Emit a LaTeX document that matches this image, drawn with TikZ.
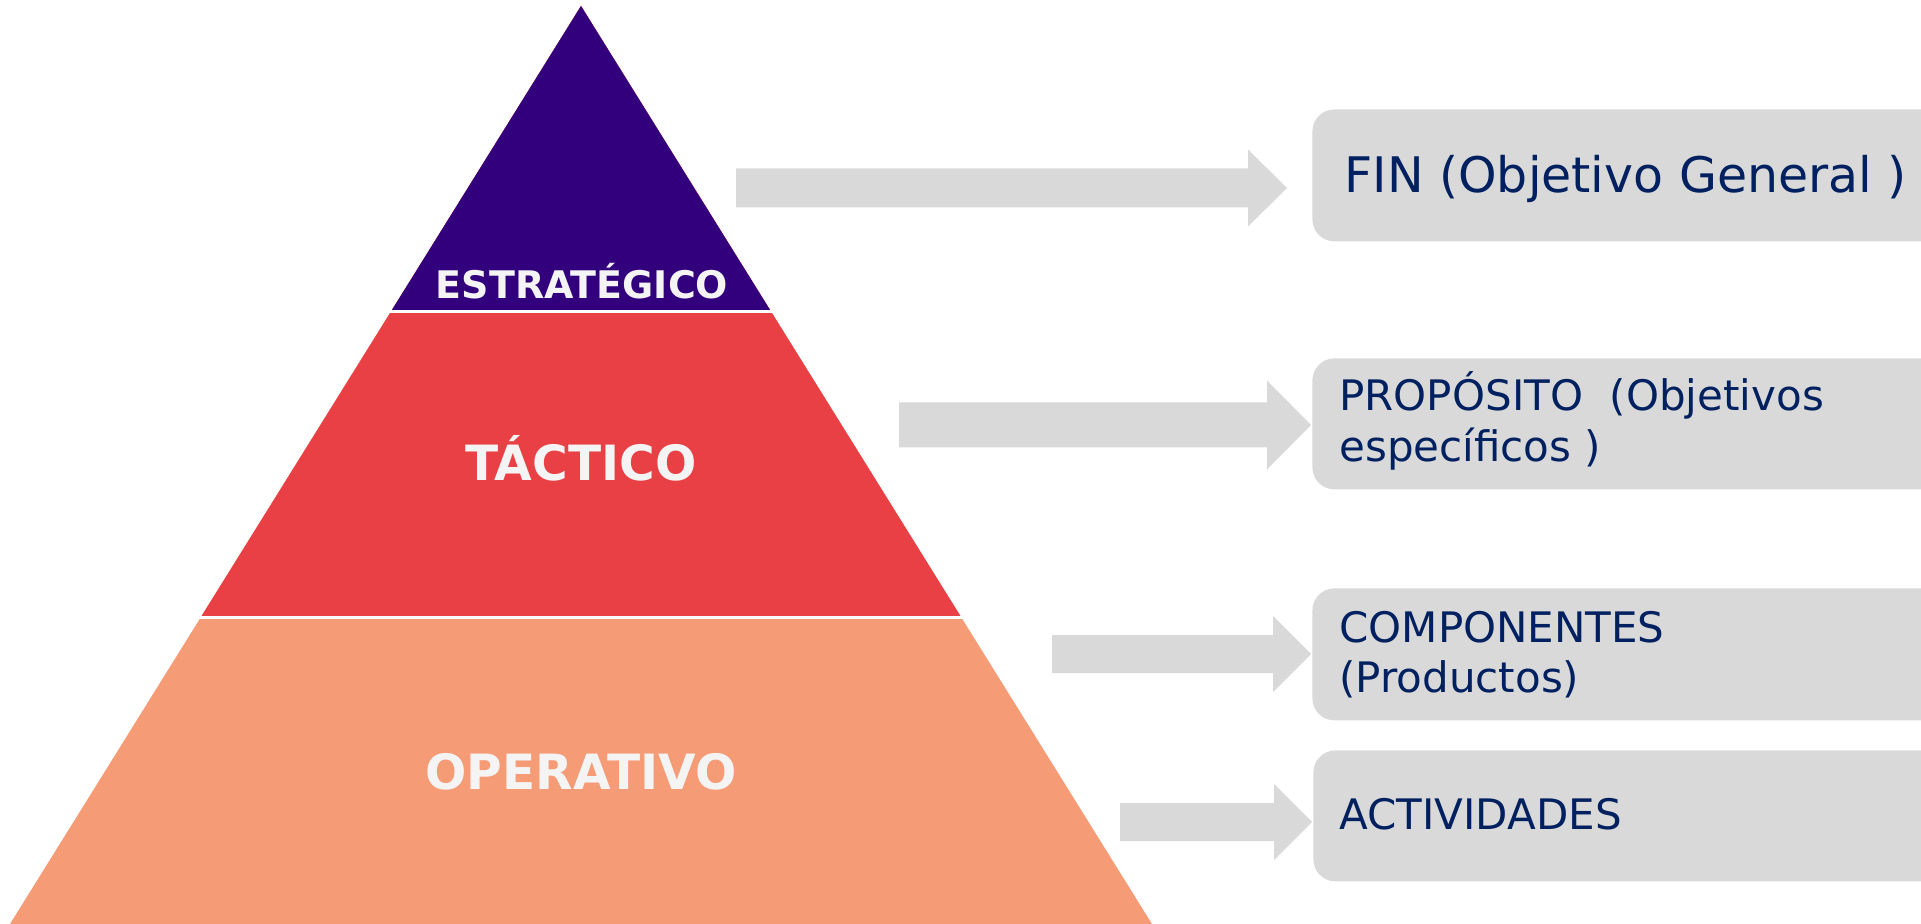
\documentclass[tikz,border=0pt]{standalone}
\usepackage{fontspec}
\setmainfont{DejaVu Sans}
\usetikzlibrary{calc,positioning}
\definecolor{estblue}{HTML}{33007D}
\definecolor{tacred}{HTML}{E84044}
\definecolor{opsalmon}{HTML}{F59B76}
\definecolor{boxgrey}{HTML}{D9D9D9}
\definecolor{txtnavy}{HTML}{002060}
\definecolor{lvltext}{HTML}{F4F4F4}

\begin{document}
\begin{tikzpicture}[x=0.5pt, y=-0.5pt,
    levellabel/.style={text=lvltext, inner sep=0pt, anchor=base},
    goalbox/.style={fill=boxgrey, rounded corners=11pt, anchor=north west, minimum width=360pt, inner sep=0pt},
    goaltext/.style={text=txtnavy, font=\fontsize{21}{25}\selectfont, align=left, inner sep=0pt, anchor=base west},
    blockarrow/.style={fill=boxgrey}]
    \useasboundingbox (0,0) rectangle (1921,924);
    \clip (0,0) rectangle (1921,924);

    % Pyramid
    \coordinate (apex) at (581,6);
    \coordinate (baseL) at (10,924);
    \coordinate (baseR) at (1152,924);
    \coordinate (cutL1) at ($(apex)!1/3!(baseL)$);
    \coordinate (cutR1) at ($(apex)!1/3!(baseR)$);
    \coordinate (cutL2) at ($(apex)!2/3!(baseL)$);
    \coordinate (cutR2) at ($(apex)!2/3!(baseR)$);
    \fill[opsalmon] (apex) -- (baseL) -- (baseR) -- cycle;
    \fill[tacred] (apex) -- (cutL2) -- (cutR2) -- cycle;
    \fill[estblue] (apex) -- (cutL1) -- (cutR1) -- cycle;
    \draw[white, line width=1.5pt] ($(cutL1)+(-3,0)$) -- ($(cutR1)+(3,0)$);
    \draw[white, line width=1.5pt] ($(cutL2)+(-3,0)$) -- ($(cutR2)+(3,0)$);

    % Level labels
    \node[levellabel, font=\bfseries\fontsize{19}{23}\selectfont] (estrategico) at (582,299) {ESTRATÉGICO};
    \node[levellabel, font=\bfseries\fontsize{24.3}{29}\selectfont] (tactico) at (581,481) {TÁCTICO};
    \node[levellabel, font=\bfseries\fontsize{24.3}{29}\selectfont] (operativo) at (581,789) {OPERATIVO};

    % Block arrows
    \foreach \xs/\xh/\xt/\yc/\ws/\wh in {736/1248/1287/188/19.5/38.5, 899/1267/1311/425/22.5/44.5,
                                          1052/1273/1311/654/19/38, 1120/1274/1312/822/19/38} {
        \fill[blockarrow] (\xs,\yc-\ws) -- (\xh,\yc-\ws) -- (\xh,\yc-\wh) -- (\xt,\yc)
            -- (\xh,\yc+\wh) -- (\xh,\yc+\ws) -- (\xs,\yc+\ws) -- cycle;
    }

    % Goal boxes
    \node[goalbox, minimum height=66pt] (fin) at (1312,109) {};
    \node[goalbox, minimum height=65.5pt] (proposito) at (1312,358) {};
    \node[goalbox, minimum height=66pt] (componentes) at (1312,588) {};
    \node[goalbox, minimum height=65.5pt] (actividades) at (1313,750) {};

    % Goal texts (base = last line)
    \node[goaltext, font=\fontsize{24.5}{29}\selectfont] (fintxt) at (1344,193) {FIN (Objetivo General )};
    \node[goaltext, font=\fontsize{21}{25.5}\selectfont] (propositotxt) at (1339,462) {PROPÓSITO\ \ (Objetivos\\específicos )};
    \node[goaltext] (componentestxt) at (1339,692) {COMPONENTES\\(Productos)};
    \node[goaltext] (actividadestxt) at (1339,829) {ACTIVIDADES};
\end{tikzpicture}
\end{document}
